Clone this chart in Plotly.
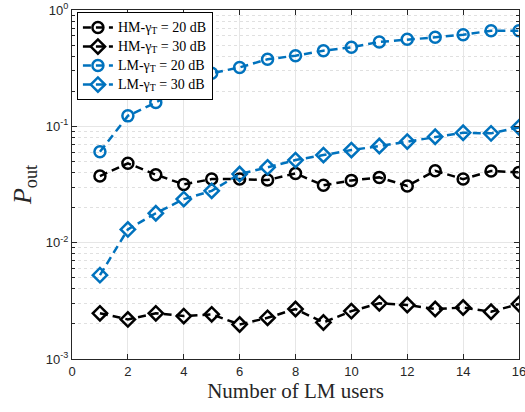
import plotly.graph_objects as go

# data
users = list(range(1, 17))
hm_20 = [0.0374, 0.0481, 0.0384, 0.0317, 0.0352, 0.0352, 0.0345, 0.0394,
         0.0311, 0.0343, 0.0364, 0.0307, 0.0415, 0.0352, 0.0413, 0.0402]
hm_30 = [0.00247, 0.00219, 0.00247, 0.00234, 0.00242, 0.00198, 0.00226, 0.00269,
         0.00206, 0.00258, 0.00301, 0.00291, 0.00269, 0.00277, 0.00255, 0.00297]
lm_20 = [0.0605, 0.123, 0.160, 0.222, 0.286, 0.321, 0.377, 0.405,
         0.447, 0.478, 0.531, 0.560, 0.582, 0.613, 0.664, 0.664]
lm_30 = [0.00526, 0.0130, 0.0179, 0.0237, 0.0279, 0.0389, 0.0444, 0.0513,
         0.0566, 0.0625, 0.0677, 0.0740, 0.0814, 0.0881, 0.0870, 0.0980]

names = ["HM-γ<sub>T</sub> = 20 dB", "HM-γ<sub>T</sub> = 30 dB",
         "LM-γ<sub>T</sub> = 20 dB", "LM-γ<sub>T</sub> = 30 dB"]
y_tickvals = [0.001, 0.01, 0.1, 1]
y_ticktext = ["10<sup>-3</sup>", "10<sup>-2</sup>", "10<sup>-1</sup>", "10<sup>0</sup>"]

black = "black"
blue = "#0072BD"
serif = "Liberation Serif"
sans = "Liberation Sans"

fig = go.Figure()
for ys, name, color, symbol in zip(
        [hm_20, hm_30, lm_20, lm_30], names,
        [black, black, blue, blue],
        ["circle-open", "diamond-open", "circle-open", "diamond-open"]):
    fig.add_trace(go.Scatter(
        x=users,
        y=ys,
        # small legend font keeps rows tight, the span sets the visible size
        name=f"<span style='font-size:14px'>{name}</span>",
        mode='lines+markers',
        line=dict(width=2.5, color=color, dash="8px,5px"),
        marker=dict(size=11, color=color, symbol=symbol, line=dict(width=2.5, color=color)),
    ))

fig.update_layout(
    width=525,
    height=412,
    margin=dict(l=72, r=6, t=10, b=53),
    plot_bgcolor="white",
    paper_bgcolor="white",
    font=dict(family=sans, size=13, color="#262626"),
    legend=dict(
        x=0.011, y=0.994, xanchor="left", yanchor="top",
        bgcolor="white", bordercolor="black", borderwidth=1,
        font=dict(family=serif, size=10, color="black"),
        tracegroupgap=0,
        itemwidth=30,
    ),
)
fig.update_xaxes(
    range=[0, 16],
    dtick=2,
    automargin=False,
    ticklabeloverflow="allow",
    ticklabelstandoff=0,
    showline=True,
    linewidth=1,
    linecolor='#262626',
    mirror="allticks",
    ticks="inside",
    ticklen=5,
    tickcolor="#262626",
    showgrid=True,
    gridcolor="#e6e6e6",
    zeroline=False,
    title_text="Number of LM users",
    title_font=dict(family=serif, size=21, color="#262626"),
    title_standoff=2,
)
fig.update_yaxes(
    type="log",
    range=[-3, 0],
    tickvals=y_tickvals,
    ticktext=y_ticktext,
    automargin=False,
    ticklabeloverflow="allow",
    showline=True,
    linewidth=1,
    linecolor='#262626',
    mirror="allticks",
    ticks="inside",
    ticklen=5,
    tickcolor="#262626",
    showgrid=True,
    gridcolor="#e6e6e6",
    zeroline=False,
    minor=dict(dtick="D1", ticks="inside", ticklen=3, tickcolor="#262626",
               showgrid=True, gridcolor="#e0e0e0", griddash="dot"),
    title_text="<i>P</i><sub>out</sub>",
    title_font=dict(family=serif, size=26, color="#262626"),
    title_standoff=6,
)

# drop the default page margin so the figure fills the window
fig.write_html("out.html", config={"displayModeBar": False},
               post_script="document.body.style.margin = '0';")
